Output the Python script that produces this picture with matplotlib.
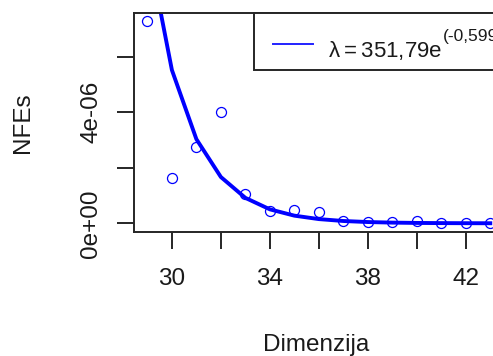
import numpy as np
import matplotlib
matplotlib.use("Agg")
import matplotlib.pyplot as plt
from matplotlib.patches import Rectangle

plt.rcParams['font.family'] = ['Liberation Sans', 'DejaVu Sans']
plt.rcParams['mathtext.fontset'] = 'custom'
plt.rcParams['mathtext.rm'] = 'Liberation Sans'

# data
dim = [29, 30, 31, 32, 33, 34, 35, 36, 37, 38, 39, 40, 41, 42, 43]
nfes = [7.28e-6, 1.62e-6, 2.76e-6, 4.02e-6, 1.04e-6, 0.44e-6, 0.48e-6, 0.42e-6,
        0.09e-6, 0.06e-6, 0.06e-6, 0.07e-6, 0.02e-6, 0.02e-6, 0.02e-6]
# fitted curve (lambda = 351,79 e^(-0,599 x)) at each dimension
fit = [1.005e-5, 5.52e-6, 3.03e-6, 1.667e-6, 9.16e-7, 5.03e-7, 2.76e-7, 1.52e-7,
       8.35e-8, 4.59e-8, 2.52e-8, 1.38e-8, 7.6e-9, 4.2e-9, 2.3e-9]
xticks = [30, 32, 34, 36, 38, 40, 42]
xlabels = ["30", "", "34", "", "38", "", "42"]
yticks = [0, 2e-6, 4e-6, 6e-6]
ylabels = ["0e+00", "", "4e-06", ""]

W, H = 493, 356
fig = plt.figure(figsize=(W / 100, H / 100), dpi=100)

def fx(px):
    return px / W

def fy(py):
    return 1 - py / H

left, right, top, bottom = 133.7, 504, 13.3, 231.7
ax = fig.add_axes([fx(left), fy(bottom), (right - left) / W, (bottom - top) / H])

ax.plot(dim, fit, color='blue', lw=2.8)
ax.plot(dim, nfes, 'o', mfc='none', mec='blue', ms=7.2, mew=0.9)

ax.set_xlim(28.44, 43.56)
ax.set_ylim(-0.302e-6, 7.563e-6)
ax.set_xticks(xticks)
ax.set_xticklabels(xlabels)
ax.set_yticks(yticks)
ax.set_yticklabels(ylabels, rotation=90, va='center')

dark = '#262626'
for s in ax.spines.values():
    s.set_color(dark)
    s.set_linewidth(1.4)
ax.tick_params(length=12, width=1.4, color=dark, labelsize=17.5, labelcolor='#1a1a1a')
ax.tick_params(axis='x', pad=14)
ax.tick_params(axis='y', pad=10.5)

fig.text(fx(316), fy(345), "Dimenzija", ha='center', va='center', fontsize=17.5, color='#1a1a1a')
fig.text(fx(23), fy(122.5), "NFEs", ha='center', va='center', rotation=90, fontsize=17.5, color='#1a1a1a')

# legend box
fig.add_artist(Rectangle((fx(254), fy(69.5)), (right - 254) / W, (69.5 - top) / H,
                         transform=fig.transFigure, fill=True, facecolor='white',
                         edgecolor=dark, lw=1.4, clip_on=False))
fig.add_artist(plt.Line2D([fx(273), fx(313)], [fy(44), fy(44)], transform=fig.transFigure,
                          color='#2222ff', lw=1.4))
main = fig.text(fx(328), fy(57.3), r"$\mathregular{\lambda = 351{,}79e}$",
                ha='left', va='baseline', fontsize=16, color='#1a1a1a')
fig.canvas.draw()
bb = main.get_window_extent()
fig.text((bb.x1 + 0.5) / W, fy(40.5), "(-0,5990x)", ha='left', va='baseline',
         fontsize=12.5, color='#1a1a1a')

fig.savefig("out.png", dpi=100)
